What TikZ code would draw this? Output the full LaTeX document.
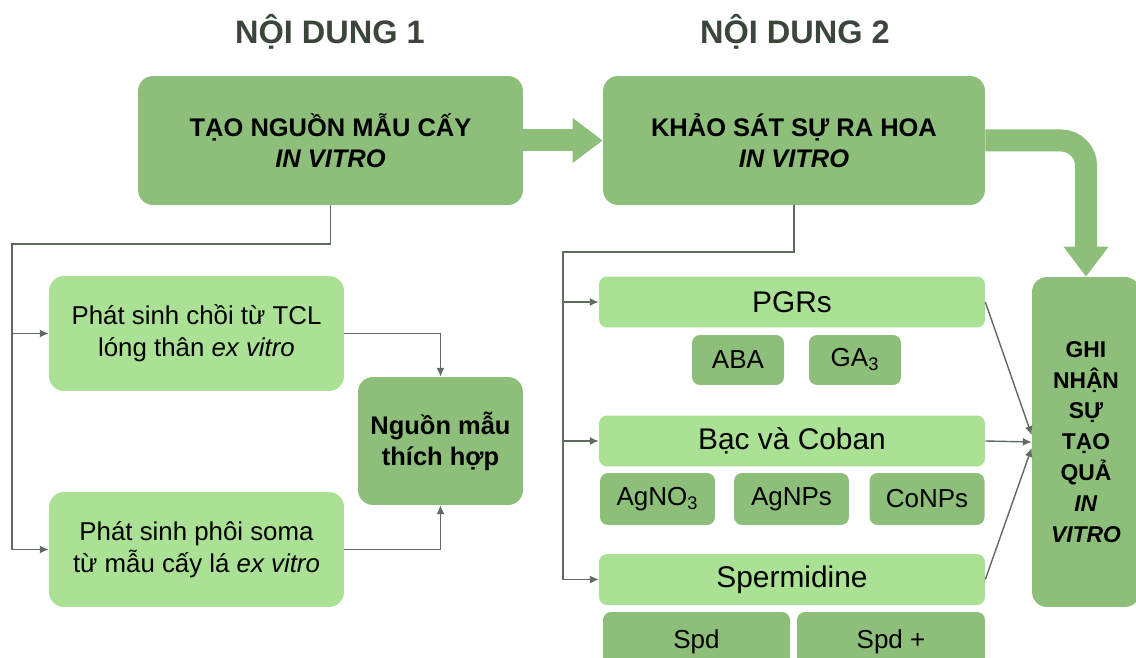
\documentclass[tikz,border=0pt]{standalone}
\usepackage{fontspec}
\setmainfont{Liberation Sans}
\usetikzlibrary{arrows.meta}

\definecolor{boxgreen}{HTML}{8DBE7A}
\definecolor{lightgreen}{HTML}{AAE195}
\definecolor{linegray}{HTML}{5F6B5F}
\definecolor{titlegray}{HTML}{3B463B}

\begin{document}
\begin{tikzpicture}[
            x=0.02cm, y=-0.02cm,
            darkbox/.style={fill=boxgreen, rounded corners=0.3cm, inner sep=0pt, align=center,
                font=\fontsize{14.5}{17.5}\selectfont\bfseries},
            lightbox/.style={fill=lightgreen, rounded corners=0.3cm, inner sep=0pt, align=center,
                font=\fontsize{14.7}{18}\selectfont},
            smallbox/.style={fill=boxgreen, rounded corners=0.16cm, inner sep=0pt,
                font=\fontsize{14.8}{17}\selectfont},
            barbox/.style={fill=lightgreen, rounded corners=0.16cm, inner sep=0pt,
                minimum width=7.72cm, minimum height=1.02cm, font=\fontsize{17}{20}\selectfont},
            heading/.style={text=titlegray, font=\fontsize{18.5}{22}\selectfont\bfseries},
            link/.style={draw=linegray, line width=0.8pt, -{Latex[length=5pt,width=4.5pt]}},
            bigarrow/.style={draw=boxgreen, line width=0.44cm, -{Triangle[length=0.6cm,width=0.86cm]}}
        ]

            \useasboundingbox (0,0) rectangle (1136,658);

            \node[heading] (noidung1) at (330,32) {NỘI DUNG 1};
            \node[heading] (noidung2) at (795,32) {NỘI DUNG 2};

            % main steps
            \node[darkbox, minimum width=7.7cm, minimum height=2.58cm] (taonguon) at (330.5,140.5)
                {TẠO NGUỒN MẪU CẤY\\\textit{IN VITRO}};
            \node[darkbox, minimum width=7.64cm, minimum height=2.58cm] (khaosat) at (794,140.5)
                {KHẢO SÁT SỰ RA HOA\\\textit{IN VITRO}};
            \node[darkbox, minimum width=2.16cm, minimum height=6.6cm, font=\fontsize{13}{17.6}\selectfont\bfseries] (ghinhan) at (1086,442)
                {GHI\\NHẬN\\SỰ\\TẠO\\QUẢ\\\textit{IN}\\\textit{VITRO}};

            % noi dung 1
            \node[lightbox, minimum width=5.9cm, minimum height=2.3cm] (phatsinhchoi) at (196.5,333.5)
                {Phát sinh chồi từ TCL\\lóng thân \textit{ex vitro}};
            \node[lightbox, minimum width=5.9cm, minimum height=2.3cm] (phatsinhphoi) at (196.5,549.5)
                {Phát sinh phôi soma\\từ mẫu cấy lá \textit{ex vitro}};
            \node[darkbox, minimum width=3.3cm, minimum height=2.56cm, font=\fontsize{14.5}{17.6}\selectfont\bfseries] (nguonmau) at (440.5,441)
                {Nguồn mẫu\\thích hợp};

            % noi dung 2
            \node[barbox] (pgrs) at (792,302) {PGRs};
            \node[smallbox, minimum width=1.84cm, minimum height=1cm] (aba) at (738,360) {ABA};
            \node[smallbox, minimum width=1.84cm, minimum height=1cm] (ga) at (855,360) {GA\textsubscript{3}};
            \node[barbox] (bac) at (792,441) {Bạc và Coban};
            \node[smallbox, minimum width=2.3cm, minimum height=1.04cm] (agno) at (657.5,499) {AgNO\textsubscript{3}};
            \node[smallbox, minimum width=2.3cm, minimum height=1.04cm] (agnps) at (791.5,499) {AgNPs};
            \node[smallbox, minimum width=2.3cm, minimum height=1.04cm] (conps) at (927,499) {CoNPs};
            \node[barbox] (spermidine) at (792,579.5) {Spermidine};
            \node[smallbox, minimum width=3.74cm, minimum height=1.2cm] (spd) at (696.5,642) {Spd};
            \node[smallbox, minimum width=3.76cm, minimum height=1.2cm] (spdplus) at (891,642) {Spd +};

            \coordinate (leftbus) at (12,244);
            \coordinate (rightbus) at (563,252);

            \draw[bigarrow] (taonguon.east) -- (khaosat.west);
            \draw[bigarrow, rounded corners=0.5cm] (khaosat.east) -| (ghinhan.north);

            \draw[link] (taonguon.south) |- (leftbus) |- (phatsinhphoi.west);
            \draw[link] (leftbus) |- (phatsinhchoi.west);
            \draw[link] (phatsinhchoi.east) -| (nguonmau.north);
            \draw[link] (phatsinhphoi.east) -| (nguonmau.south);

            \draw[link] (khaosat.south) |- (rightbus) |- (spermidine.west);
            \draw[link] (rightbus) |- (pgrs.west);
            \draw[link] (rightbus) |- (bac.west);

            \draw[link] (pgrs.east) -- ([yshift=0.14cm]ghinhan.west);
            \draw[link] (bac.east) -- (ghinhan.west);
            \draw[link] (spermidine.east) -- ([yshift=-0.12cm]ghinhan.west);
        \end{tikzpicture}
\end{document}
